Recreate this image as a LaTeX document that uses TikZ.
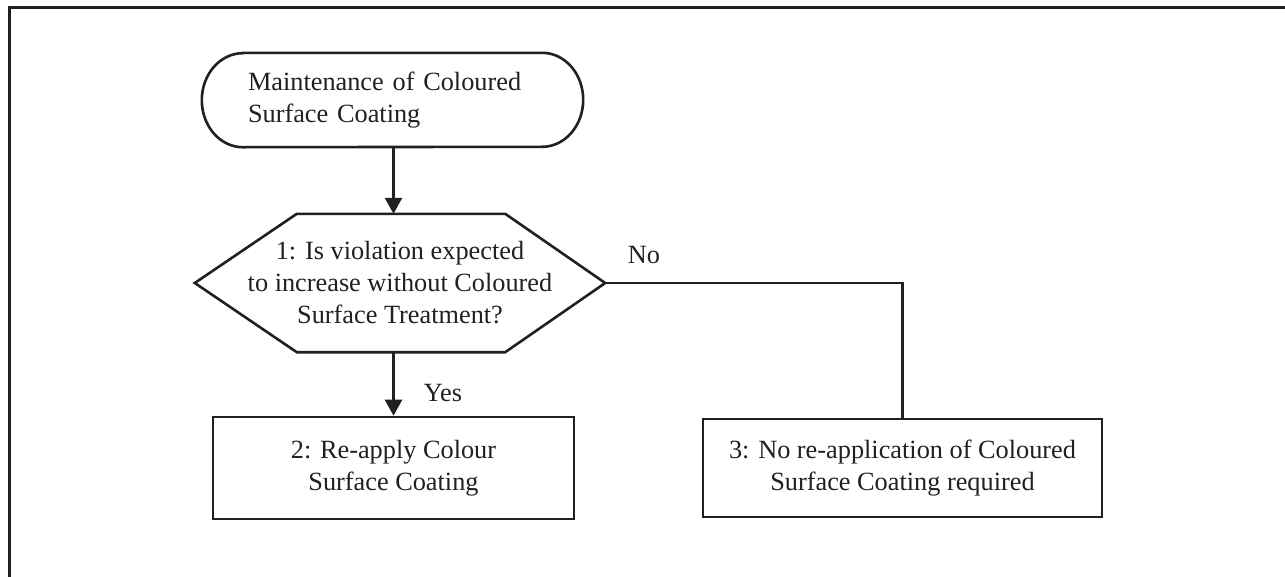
\documentclass[tikz,border=0pt]{standalone}
\usepackage{fontspec}
\setmainfont{Liberation Serif}
\usetikzlibrary{arrows.meta,calc}
\definecolor{ink}{HTML}{231F20}
\tikzset{
  lbl/.style={font=\fontsize{26.3}{32}\selectfont, text=ink},
  boxnode/.style={lbl, draw=ink, line width=2.6pt, align=center, inner sep=0pt},
  conn/.style={draw=ink, line width=2.6pt},
  arr/.style={conn, -{Triangle[width=17pt,length=16pt]}},
}
\begin{document}
\begin{tikzpicture}[x=1pt,y=-1pt]
\useasboundingbox (0,0) rectangle (1285,576);
% outer frame
\draw[draw=ink, line width=3pt] (9,600) -- (9,7) -- (1300,7);
% start terminal
\node[lbl, minimum width=381pt, minimum height=94pt, inner xsep=46pt, inner ysep=0pt,
      text width=289pt, align=left] (start) at (392.5,100)
      {Maintenance of Coloured\\Surface Coating};
\draw[conn] ([xshift=41pt]start.north west) -- ([xshift=-41pt]start.north east)
  arc[start angle=90, end angle=-90, x radius=41pt, y radius=47pt]
  -- ([xshift=41pt]start.south west)
  arc[start angle=270, end angle=90, x radius=41pt, y radius=47pt] -- cycle;
% decision hexagon
\node[lbl, minimum width=410pt, minimum height=138pt, inner sep=0pt, align=center] (hex) at (400,283)
  {1: Is violation expected\\to increase without Coloured\\Surface Treatment?};
\draw[conn] (hex.west) -- ([xshift=102pt]hex.north west) -- ([xshift=-100pt]hex.north east)
  -- (hex.east) -- ([xshift=-100pt]hex.south east) -- ([xshift=102pt]hex.south west) -- cycle;
% boxes
\node[boxnode, minimum width=361pt, minimum height=102pt] (box2) at (393.5,468)
  {2: Re-apply Colour\\Surface Coating};
\node[boxnode, minimum width=399pt, minimum height=98pt] (box3) at (902.5,468)
  {3: No re-application of Coloured\\Surface Coating required};
% connectors
\draw[arr] (start.south -| box2.north) -- (hex.north -| box2.north);
\draw[arr] (hex.south -| box2.north) -- (box2.north);
\draw[conn] (hex.east) -- (hex.east -| box3.north) -- (box3.north);
% labels
\node[lbl] (yes) at (443,393) {Yes};
\node[lbl] (no) at (644,255) {No};
\end{tikzpicture}
\end{document}
